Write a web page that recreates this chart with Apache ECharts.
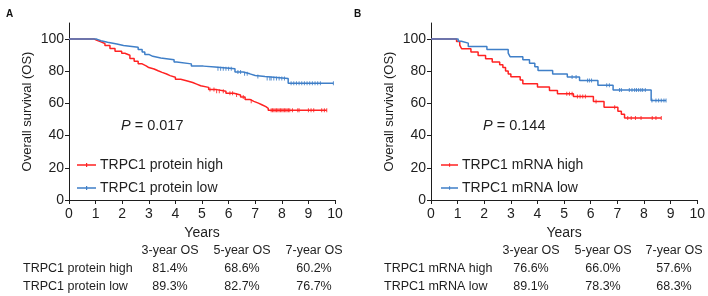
<!DOCTYPE html>
<html><head><meta charset="utf-8">
<script src="https://cdn.jsdelivr.net/npm/echarts@6/dist/echarts.min.js"></script>
<style>html,body{margin:0;padding:0;background:#fff}#c{width:708px;height:296px}</style>
</head><body><div id="c"></div>
<script>
// ---- data ----
const xTicks = [0,1,2,3,4,5,6,7,8,9,10];
const yTicks = [0,20,40,60,80,100];
const namesA = ['TRPC1 protein high','TRPC1 protein low'];
const namesB = ['TRPC1 mRNA high','TRPC1 mRNA low'];
const highA = [[0,100],[0.95,99.2],[1.05,98.3],[1.2,97.3],[1.35,96.0],[1.54,94.2],[1.73,92.5],[1.98,91.2],[2.1,90.0],[2.29,88.0],[2.45,86.2],[2.6,84.6],[2.75,83.4],[2.9,82.3],[3.0,81.4],[3.2,80.3],[3.35,79.3],[3.5,78.3],[3.67,77.3],[3.8,76.3],[4.0,75.0],[4.2,74.0],[4.45,73.0],[4.65,72.0],[4.8,71.0],[4.95,70.0],[5.25,68.6],[5.55,67.6],[5.9,66.3],[6.2,65.3],[6.45,64.0],[6.62,62.5],[6.8,61.3],[6.95,60.2],[7.12,59.2],[7.25,58.0],[7.4,57.0],[7.49,55.7],[9.69,55.7]];
const lowA = [[0,100],[1.04,99.0],[1.2,98.0],[1.45,97.0],[1.8,96.0],[2.05,95.0],[2.6,93.5],[2.75,92.0],[2.85,90.5],[3.0,89.3],[3.15,88.3],[3.45,87.1],[3.95,85.7],[4.05,84.6],[4.6,83.2],[5.05,82.7],[5.49,81.5],[6.24,79.5],[6.55,78.4],[6.8,77.4],[7.0,76.7],[7.37,75.5],[8.24,72.5],[9.94,72.5]];
const highB = [[0,100],[0.96,98.5],[1.08,96.2],[1.15,94.0],[1.5,92.0],[1.77,89.8],[2.05,87.8],[2.3,85.8],[2.58,84.0],[2.7,82.3],[2.8,80.2],[2.9,78.3],[3.0,76.6],[3.35,74.5],[3.45,72.3],[4.0,70.2],[4.45,68.0],[4.75,66.0],[5.35,64.3],[6.1,61.2],[6.5,57.6],[7.02,55.2],[7.15,53.3],[7.27,51.0],[8.65,51.0]];
const lowB = [[0,100],[1.02,98.7],[1.14,97.5],[1.4,95.4],[2.1,93.6],[2.9,91.3],[2.97,89.1],[3.45,87.1],[3.7,85.0],[3.9,82.8],[4.02,80.5],[4.57,78.3],[5.12,76.5],[5.58,74.2],[6.27,71.3],[6.84,68.3],[8.27,61.8],[8.83,61.8]];
const censHighA = [5.3,5.45,5.55,5.65,5.8,6.05,6.15,6.3,6.55,6.85,7.6,7.65,7.7,7.75,7.8,7.85,7.9,7.95,8.0,8.05,8.1,8.15,8.2,8.25,8.3,8.4,8.6,8.65,9.0,9.1,9.2,9.5,9.6,9.69];
const censLowA = [5.6,5.7,5.8,5.9,6.0,6.1,6.35,6.45,6.6,6.7,7.1,7.45,7.55,7.6,7.7,7.8,7.9,8.0,8.1,8.35,8.45,8.55,8.65,8.75,8.85,8.95,9.05,9.15,9.25,9.35,9.45,9.94];
const censHighB = [5.1,5.2,5.3,5.5,5.6,5.7,5.8,6.2,6.9,7.39,7.52,7.68,7.89,8.31,8.45,8.65];
const censLowB = [5.3,5.45,5.88,5.95,6.03,6.6,6.7,7.08,7.15,7.45,7.55,7.65,7.72,7.8,7.88,7.95,8.05,8.3,8.45,8.55,8.65,8.75,8.83];
const pA = '0.017', pB = '0.144';
const tableHead = ['3-year OS','5-year OS','7-year OS'];
const tableA = [['TRPC1 protein high','81.4%','68.6%','60.2%'],['TRPC1 protein low','89.3%','82.7%','76.7%']];
const tableB = [['TRPC1 mRNA high','76.6%','66.0%','57.6%'],['TRPC1 mRNA low','89.1%','78.3%','68.3%']];

// ---- chart ----
const RED = '#ff2222', BLUE = '#3f7fc8', TXT = '#1e1e1e';
const FONT = '"Liberation Sans", Arial, sans-serif';
function lookup(steps, t){ let v = steps[0][1]; for (const p of steps){ if (p[0] <= t) v = p[1]; } return v; }
function cens(steps, ts){ return ts.map(t => [t, lookup(steps, t)]); }
const LEG_ICON = 'path://M0,1.3H19V2.7H0Z M9,0H10.2V4H9Z';

const grids = [{left:69, top:23, width:266, height:177}, {left:431, top:23, width:267, height:177}];
function xAx(i){ return {gridIndex:i, type:'value', min:0, max:10, interval:1,
  axisLine:{lineStyle:{color:TXT,width:1}}, axisTick:{length:4,lineStyle:{color:TXT}},
  axisLabel:{color:TXT, fontSize:14, fontFamily:FONT, margin:7, formatter:v=>xTicks.includes(v)?String(v):''},
  splitLine:{show:false}, name:'Years', nameLocation:'middle', nameGap:26,
  nameTextStyle:{color:TXT, fontSize:14, fontFamily:FONT}}; }
function yAx(i){ return {gridIndex:i, type:'value', min:0, max:110,
  axisLine:{show:true, lineStyle:{color:TXT,width:1}},
  axisTick:{show:true, length:4, lineStyle:{color:TXT}, customValues: yTicks},
  axisLabel:{color:TXT, fontSize:14, fontFamily:FONT, margin:5, customValues: yTicks},
  splitLine:{show:false}, name:'Overall survival (OS)', nameLocation:'middle', nameGap:35,
  nameTextStyle:{color:TXT, fontSize:13, fontFamily:FONT}}; }

function stepSeries(name, data, color, i){
  return {name, type:'line', step:'end', xAxisIndex:i, yAxisIndex:i, data,
    showSymbol:false, symbol:'none', lineStyle:{color, width:1.5}, itemStyle:{color}, silent:true, z:3}; }
function censSeries(name, data, color, i){
  return {name, type:'scatter', xAxisIndex:i, yAxisIndex:i, data, symbol:'rect', symbolSize:[1,4],
    itemStyle:{color, opacity:0.85}, silent:true, z:4}; }

const graphics = [];
function table(heads, rows, labelX, colX){
  heads.forEach((h,j)=>graphics.push({type:'text', x:colX[j], y:251, style:{text:h, font:'12.5px '+FONT, fill:TXT, textAlign:'center', textVerticalAlign:'middle'}}));
  rows.forEach((r,k)=>{
    const y = 269 + k*18;
    graphics.push({type:'text', x:labelX, y, style:{text:r[0], font:'12.5px '+FONT, fill:TXT, textAlign:'left', textVerticalAlign:'middle'}});
    for (let j=1;j<4;j++) graphics.push({type:'text', x:colX[j-1], y, style:{text:r[j], font:'12.5px '+FONT, fill:TXT, textAlign:'center', textVerticalAlign:'middle'}});
  });
}
table(tableHead, tableA, 23, [170,242,314]);
table(tableHead, tableB, 384, [531,603,674]);

function pTitle(p, left){
  return {text:'{i|P} = '+p, left, top:118, padding:0,
    textStyle:{fontSize:14.5, color:TXT, fontWeight:'normal', fontFamily:FONT,
      rich:{i:{fontStyle:'italic', fontSize:14.5, color:TXT, fontFamily:FONT}}}};
}
function legend(names, left, w){
  return {data:names.map(n=>({name:n, icon:LEG_ICON})), orient:'vertical', left, top:158, padding:0,
    itemWidth:w, itemHeight:4, itemGap:9,
    textStyle:{fontSize:14, color:TXT, fontFamily:FONT, padding:[0,0,0,-1]}};
}

const chart = echarts.init(document.getElementById('c'), null, {renderer:'canvas'});
chart.setOption({
  animation:false,
  textStyle:{fontFamily:FONT},
  grid: grids,
  xAxis:[xAx(0), xAx(1)],
  yAxis:[yAx(0), yAx(1)],
  title:[
    {text:'A', left:6, top:9, padding:0, textStyle:{fontSize:10, fontWeight:'bold', color:'#111', fontFamily:FONT}},
    {text:'B', left:354, top:9, padding:0, textStyle:{fontSize:10, fontWeight:'bold', color:'#111', fontFamily:FONT}},
    pTitle(pA, 121),
    pTitle(pB, 483)
  ],
  legend:[legend(namesA, 77, 19), legend(namesB, 441, 17)],
  graphic: graphics,
  series:[
    stepSeries(namesA[0], highA, RED, 0),
    stepSeries(namesA[1], lowA, BLUE, 0),
    censSeries(namesA[0]+' c', cens(highA, censHighA), RED, 0),
    censSeries(namesA[1]+' c', cens(lowA, censLowA), BLUE, 0),
    stepSeries(namesB[0], highB, RED, 1),
    stepSeries(namesB[1], lowB, BLUE, 1),
    censSeries(namesB[0]+' c', cens(highB, censHighB), RED, 1),
    censSeries(namesB[1]+' c', cens(lowB, censLowB), BLUE, 1)
  ]
});
</script></body></html>
